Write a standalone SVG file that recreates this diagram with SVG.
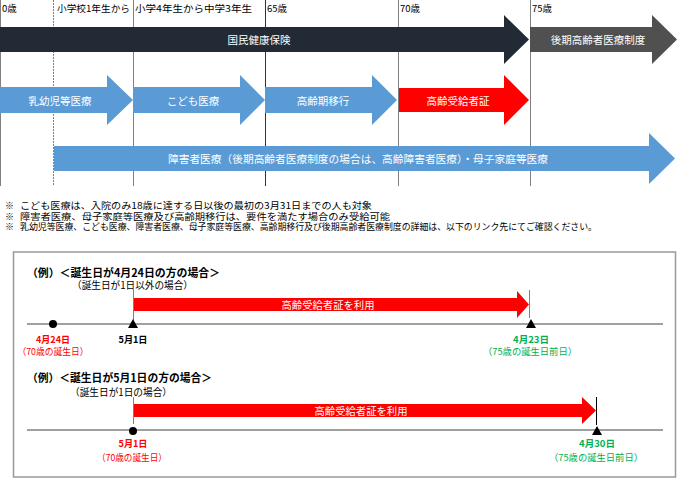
<svg xmlns="http://www.w3.org/2000/svg" width="690" height="491" viewBox="0 0 690 491">
<style>
text{font-family:"Noto Sans CJK JP","Noto Sans",sans-serif;}
.hdr{font-size:9.5px;fill:#000;}
.lbl{font-size:10.5px;fill:#fff;text-anchor:middle;dominant-baseline:central;}
.note{font-size:9px;fill:#000;}
.vline{stroke:#808080;stroke-width:1;fill:none;}
.tl{stroke:#808080;stroke-width:1.3;fill:none;}
.red{fill:#ff0000;}
.blue{fill:#5b9bd5;}
.ttl{font-size:11px;font-weight:bold;fill:#000;}
.sub{font-size:10px;fill:#000;}
.dr{font-size:9.5px;fill:#ff0000;text-anchor:middle;font-weight:bold;}
.dg{font-size:9.5px;fill:#00b050;text-anchor:middle;font-weight:bold;}
.dk{font-size:9.5px;fill:#000;text-anchor:middle;font-weight:bold;}
.pn{font-weight:normal;}
</style>
<rect x="0" y="0" width="690" height="491" fill="#fff"/>
<g id="grid">
<line class="vline" x1="0.5" y1="0" x2="0.5" y2="186"/>
<line class="vline" x1="53.5" y1="0" x2="53.5" y2="186" stroke-dasharray="2,1"/>
<line class="vline" x1="133.5" y1="0" x2="133.5" y2="186"/>
<line class="vline" x1="265.5" y1="0" x2="265.5" y2="186" style="stroke:#333"/>
<line class="vline" x1="398.5" y1="0" x2="398.5" y2="186"/>
<line class="vline" x1="530.5" y1="0" x2="530.5" y2="186"/>
</g>
<g id="headers">
<text class="hdr" x="2" y="12">0歳</text>
<text class="hdr" x="57" y="12" textLength="73" lengthAdjust="spacingAndGlyphs">小学校1年生から</text>
<text class="hdr" x="135" y="12" textLength="117" lengthAdjust="spacingAndGlyphs">小学4年生から中学3年生</text>
<text class="hdr" x="267" y="12">65歳</text>
<text class="hdr" x="400" y="12">70歳</text>
<text class="hdr" x="532" y="12">75歳</text>
</g>
<g id="kokumin">
<polygon points="0,27 504,27 504,15 529,39.5 504,64 504,52 0,52" fill="#222a35"/>
<text class="lbl" x="259" y="39.5">国民健康保険</text>
</g>
<g id="kouki">
<polygon points="530,27 652,27 652,15 677,39.5 652,64 652,52 530,52" fill="#505050"/>
<text class="lbl" x="598" y="39.5">後期高齢者医療制度</text>
</g>
<g id="nyuyoji">
<polygon class="blue" points="0,87 107,87 107,75 133,100 107,125 107,113 0,113"/>
<text class="lbl" x="60" y="100">乳幼児等医療</text>
</g>
<g id="kodomo">
<polygon class="blue" points="133,87 240,87 240,75 265,100 240,125 240,113 133,113"/>
<text class="lbl" x="193" y="100">こども医療</text>
</g>
<g id="koureiki">
<polygon class="blue" points="265,87 372,87 372,75 397,100 372,125 372,113 265,113"/>
<text class="lbl" x="323" y="100">高齢期移行</text>
</g>
<g id="koureijukyu">
<polygon class="red" points="399,88 504,88 504,75 529,100 504,125 504,112 399,112"/>
<text class="lbl" x="458" y="100">高齢受給者証</text>
</g>
<g id="shogai">
<polygon class="blue" points="54,146 649,146 649,133 675,158.5 649,184 649,171 54,171"/>
<text class="lbl" x="358" y="158.5" textLength="380" lengthAdjust="spacingAndGlyphs">障害者医療（後期高齢者医療制度の場合は、高齢障害者医療）・母子家庭等医療</text>
</g>
<g id="notes">
<text class="note" x="5" y="209">※</text>
<text class="note" x="20" y="209" textLength="352" lengthAdjust="spacingAndGlyphs">こども医療は、入院のみ18歳に達する日以後の最初の3月31日までの人も対象</text>
<text class="note" x="5" y="219.5">※</text>
<text class="note" x="20" y="219.5" textLength="370" lengthAdjust="spacingAndGlyphs">障害者医療、母子家庭等医療及び高齢期移行は、要件を満たす場合のみ受給可能</text>
<text class="note" x="5" y="229.5">※</text>
<text class="note" x="20" y="229.5" textLength="577" lengthAdjust="spacingAndGlyphs">乳幼児等医療、こども医療、障害者医療、母子家庭等医療、高齢期移行及び後期高齢者医療制度の詳細は、以下のリンク先にてご確認ください。</text>
</g>
<g id="examplebox">
<rect x="13.5" y="252" width="662" height="225" fill="none" stroke="#999" stroke-width="1.5"/>
</g>
<g id="example1">
<text class="ttl" x="27" y="277" textLength="193" lengthAdjust="spacingAndGlyphs">（例）＜誕生日が4月24日の方の場合＞</text>
<text class="sub" x="72" y="289" textLength="121" lengthAdjust="spacingAndGlyphs">（誕生日が1日以外の場合）</text>
<line x1="133.5" y1="285" x2="133.5" y2="320" stroke="#808080" stroke-width="1"/>
<line x1="529.5" y1="290" x2="529.5" y2="318" stroke="#808080" stroke-width="1"/>
<polygon class="red" points="134,298 517,298 517,291 529,304.5 517,318 517,311 134,311"/>
<text class="lbl" x="328" y="304.5" textLength="93" lengthAdjust="spacingAndGlyphs">高齢受給者証を利用</text>
<line class="tl" x1="27" y1="324" x2="663" y2="324"/>
<circle cx="53" cy="324" r="4" fill="#000"/>
<polygon points="133,319 128,328 138,328" fill="#000"/>
<polygon points="531,319 526,328 536,328" fill="#000"/>
<text class="dr" x="53" y="343" textLength="34" lengthAdjust="spacingAndGlyphs">4月24日</text>
<text class="dr pn" x="53" y="355" textLength="71" lengthAdjust="spacingAndGlyphs">（70歳の誕生日）</text>
<text class="dk" x="133" y="343" textLength="29" lengthAdjust="spacingAndGlyphs">5月1日</text>
<text class="dg" x="531" y="343" textLength="36" lengthAdjust="spacingAndGlyphs">4月23日</text>
<text class="dg pn" x="530" y="355" textLength="94" lengthAdjust="spacingAndGlyphs">（75歳の誕生日前日）</text>
</g>
<g id="example2">
<text class="ttl" x="27" y="382" textLength="185" lengthAdjust="spacingAndGlyphs">（例）＜誕生日が5月1日の方の場合＞</text>
<text class="sub" x="70" y="396" textLength="102" lengthAdjust="spacingAndGlyphs">（誕生日が1日の場合）</text>
<line x1="133.5" y1="397" x2="133.5" y2="424" stroke="#808080" stroke-width="1"/>
<line x1="596.5" y1="397" x2="596.5" y2="425" stroke="#000" stroke-width="1"/>
<polygon class="red" points="134,404 582,404 582,397 596,410.5 582,424 582,417 134,417"/>
<text class="lbl" x="361" y="410.5" textLength="93" lengthAdjust="spacingAndGlyphs">高齢受給者証を利用</text>
<line class="tl" x1="27" y1="430" x2="663" y2="430"/>
<circle cx="133" cy="431" r="4" fill="#000"/>
<polygon points="597,426 592,435 602,435" fill="#000"/>
<text class="dr" x="133" y="447" textLength="29" lengthAdjust="spacingAndGlyphs">5月1日</text>
<text class="dr pn" x="132" y="461" textLength="70" lengthAdjust="spacingAndGlyphs">（70歳の誕生日）</text>
<text class="dg" x="597" y="447" textLength="36" lengthAdjust="spacingAndGlyphs">4月30日</text>
<text class="dg pn" x="596" y="461" textLength="94" lengthAdjust="spacingAndGlyphs">（75歳の誕生日前日）</text>
</g>
</svg>
